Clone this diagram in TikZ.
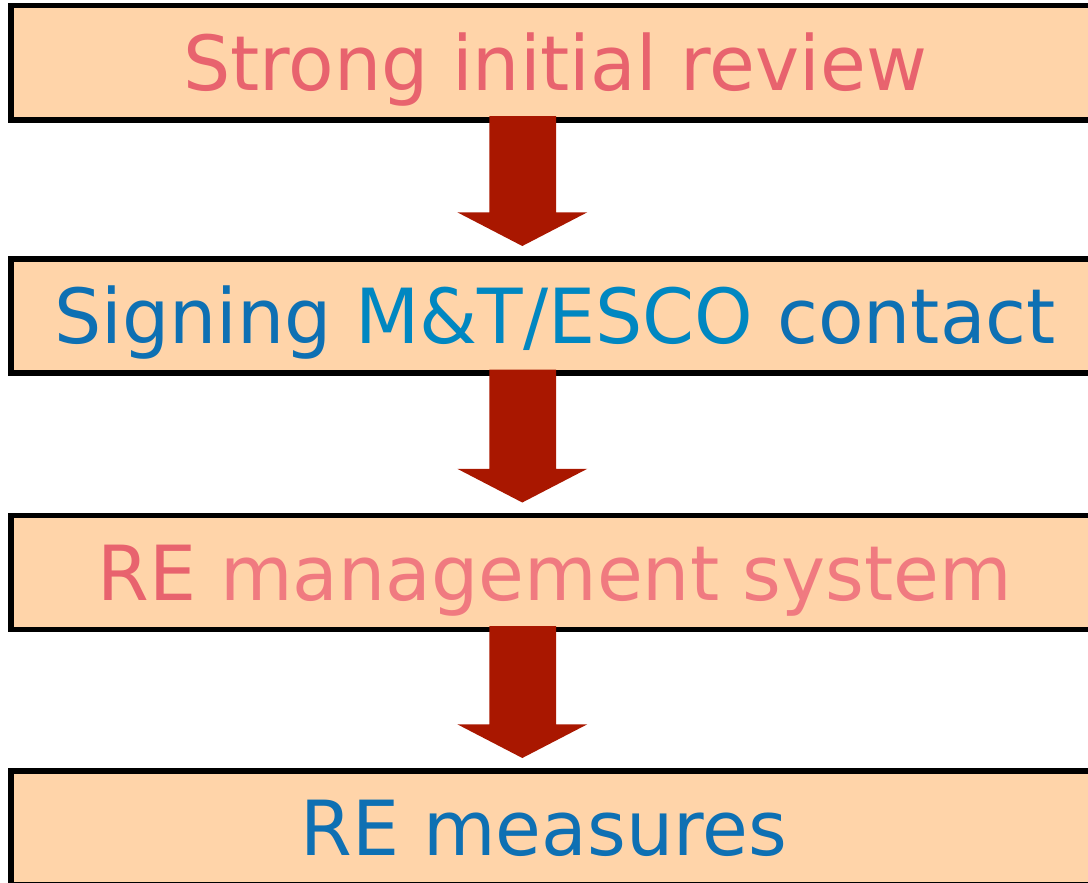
\documentclass[tikz,border=0pt]{standalone}
\usepackage{fontspec}
\setmainfont{DejaVu Sans}[FakeStretch=0.98]
\usetikzlibrary{calc}
\definecolor{peach}{HTML}{FFD4A9}
\definecolor{redA}{HTML}{E8636E}
\definecolor{redB}{HTML}{F07A80}
\definecolor{blueA}{HTML}{0E70B3}
\definecolor{blueB}{HTML}{0087C1}
\definecolor{arrowred}{HTML}{A91700}
\begin{document}
\begin{tikzpicture}[x=1pt,y=-1pt,
  stage/.style={draw=black, line width=5.5pt, fill=peach,
    minimum width=1088pt, minimum height=114pt,
    inner sep=0pt, outer sep=0pt, text height=55.4pt, text depth=0pt,
    font=\fontsize{76}{90}\selectfont},
  flow/.style={fill=arrowred}]
\useasboundingbox (0,0) rectangle (1088,883);

% process stages
\node[stage, text=redA] (b1) at (555,62.75) {Strong initial review};
\node[stage, text=blueA] (b2) at (555,316)
  {Signing {\color{blueB}M\&T/ESCO} contact};
\node[stage, text=redB] (b3) at (555,572.5)
  {{\color{redA}RE} management system};
\node[stage, text=blueA] (b4) at (555,828) {RE measures\hspace*{22pt}};

% block arrows between consecutive stages
\foreach \a/\b in {b1/b2,b2/b3,b3/b4}
  \fill[flow] let \p1=(\a.south), \p2=(\b.north) in
    (489.4pt,\y1+3.5pt) -- (556pt,\y1+3.5pt) -- (556pt,\y2+46.7pt)
    -- (587.3pt,\y2+46.7pt) -- (522.3pt,\y2+13pt) -- (457.3pt,\y2+46.7pt)
    -- (489.4pt,\y2+46.7pt) -- cycle;
\end{tikzpicture}
\end{document}
